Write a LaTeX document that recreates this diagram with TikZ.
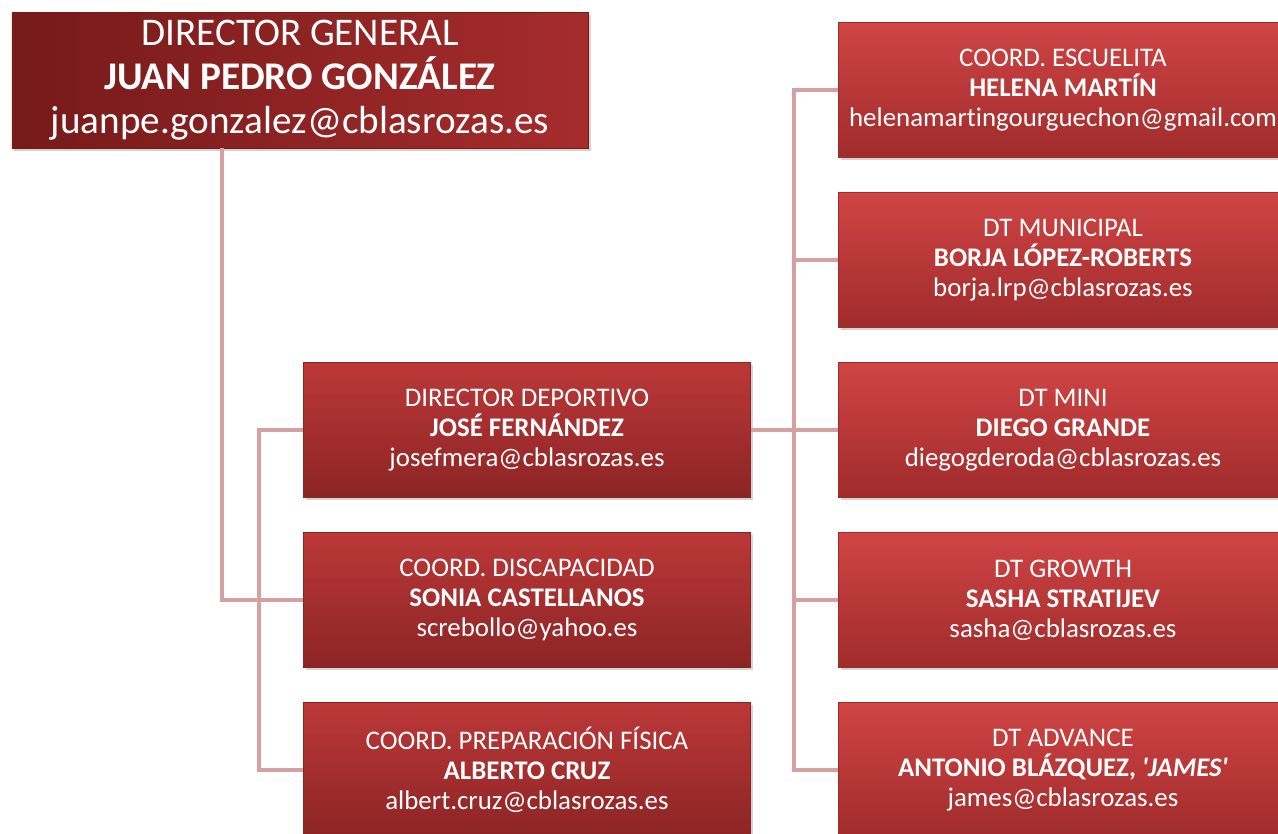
\documentclass[tikz,border=0pt]{standalone}
\usepackage{fontspec}
\setmainfont{Carlito}[Ligatures=NoCommon]
\usetikzlibrary{shadows}
\definecolor{linkpink}{HTML}{D6A0A3}
\definecolor{jefeL}{HTML}{761A1A}
\definecolor{jefeR}{HTML}{A62C2C}
\definecolor{boxtopA}{HTML}{BC3838}
\definecolor{boxbotA}{HTML}{8C2424}
\definecolor{boxtopB}{HTML}{D04444}
\definecolor{boxbotB}{HTML}{A02B2B}
\tikzstyle{jefe} = [rectangle, minimum width = 11.52cm, minimum height = 2.72cm, text centered, align=center, text=white, draw = jefeL, line width=0.4pt, left color = jefeL, right color = jefeR, drop shadow={opacity=0.35, shadow xshift=0.05cm, shadow yshift=-0.05cm}, font=\fontsize{22.3}{25}\selectfont]
\tikzstyle{cargo} = [rectangle, minimum width = 8.94cm, minimum height = 2.7cm, text centered, align=center, text=white, draw = boxbotA, line width=0.4pt, top color = boxtopA, bottom color = boxbotA, drop shadow={opacity=0.35, shadow xshift=0.05cm, shadow yshift=-0.05cm}, font=\fontsize{15.3}{17}\selectfont]
\tikzstyle{tecnico} = [cargo, minimum width = 9cm, draw = boxbotB, top color = boxtopB, bottom color = boxbotB]
\tikzstyle{link} = [linkpink, line width = 2.6pt]

\begin{document}
\begin{tikzpicture}[node distance = 3.4cm]
        	\useasboundingbox (0,0) rectangle (25.56,-16.68);
        	\clip (0,0) rectangle (25.56,-16.68);
        	
        	\node[jefe](general) at (6.0,-1.6){DIRECTOR GENERAL\\\textbf{JUAN PEDRO GONZÁLEZ}\\juanpe.gonzalez@cblasrozas.es};
        	\node[cargo](deportivo) at (10.54,-8.6){DIRECTOR DEPORTIVO\\\textbf{JOSÉ FERNÁNDEZ}\\josefmera@cblasrozas.es};
        	\node[cargo,below of =deportivo](discapacidad){COORD. DISCAPACIDAD\\\textbf{SONIA CASTELLANOS}\\screbollo@yahoo.es};
        	\node[cargo,below of =discapacidad](fisica){COORD. PREPARACIÓN FÍSICA\\\textbf{ALBERTO CRUZ}\\albert.cruz@cblasrozas.es};
        	\node[tecnico,right of =deportivo,xshift = 7.32cm](mini){DT MINI\\\textbf{DIEGO GRANDE}\\diegogderoda@cblasrozas.es};
        	\node[tecnico,above of =mini](municipal){DT MUNICIPAL\\\textbf{BORJA LÓPEZ-ROBERTS}\\borja.lrp@cblasrozas.es};
        	\node[tecnico,above of =municipal](escuelita){COORD. ESCUELITA\\\textbf{HELENA MARTÍN}\\helenamartingourguechon@gmail.com};
        	\node[tecnico,below of =mini](growth){DT GROWTH\\\textbf{SASHA STRATIJEV}\\sasha@cblasrozas.es};
        	\node[tecnico,below of =growth](advance){DT ADVANCE\\\textbf{ANTONIO BLÁZQUEZ, \textit{\textquotesingle JAMES\textquotesingle}}\\james@cblasrozas.es};
        	
        	\coordinate (bajada) at (4.44,-2.96);
        	\coordinate (izq) at (5.18,0);
        	\coordinate (der) at (15.88,0);
        	
        	\draw [link](general.south -| bajada)|-(discapacidad.west);
        	\draw [link](deportivo.west)-|(izq |- fisica.west)--(fisica.west);
        	\draw [link](izq |- discapacidad.west)--(discapacidad.west);
        	\draw [link](deportivo.east)--(mini.west);
        	\draw [link](escuelita.west)-|(der |- advance.west)--(advance.west);
        	\draw [link](der |- municipal.west)--(municipal.west);
        	\draw [link](der |- growth.west)--(growth.west);
        	
\end{tikzpicture}
\end{document}
